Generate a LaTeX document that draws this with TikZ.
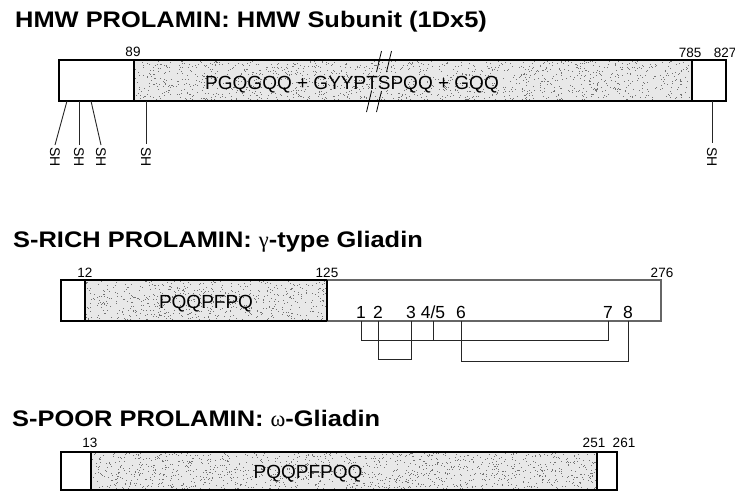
\documentclass[tikz,border=0pt]{standalone}
\usepackage{fontspec}
\setmainfont{Liberation Sans}
\newfontfamily\titlefont{Liberation Sans}[FakeStretch=1.13]
\newfontfamily\greekfont{Liberation Serif}
\begin{document}
\begin{tikzpicture}[x=1pt,y=-1pt,
  title/.style={anchor=base west,inner sep=0,font=\titlefont\fontsize{22.5}{22.5}\selectfont\bfseries},
  posnum/.style={anchor=base,inner sep=0,font=\fontsize{13.5}{13.5}\selectfont},
  seqtext/.style={anchor=base,inner sep=0,font=\fontsize{19}{19}\selectfont},
  cysnum/.style={anchor=base,inner sep=0,font=\fontsize{17.5}{17.5}\selectfont},
  shlabel/.style={anchor=west,inner sep=0,rotate=-90,font=\fontsize{14}{14}\selectfont},
  shadefill/.style={fill=black!9},
  stipple/.style={fill=black!55},
  boxline/.style={draw=black,line width=1.2pt},
  greyline/.style={draw=black!60,line width=1.1pt},
  link/.style={draw=black!85,line width=0.9pt},
  bond/.style={draw=black!85,line width=0.9pt},
  breakmark/.style={draw=black,line width=0.8pt}
]
\useasboundingbox (0,0) rectangle (735,493);
\fill[white] (0,0) rectangle (735,493);
\pgfmathsetseed{12345}

% ---------------- HMW ----------------
\node[title] (t1) at (15,27) {HMW PROLAMIN: HMW Subunit (1Dx5)};
\fill[shadefill] (134,60) rectangle (692,101);
\foreach \i in {1,...,1400}{
  \pgfmathsetmacro\rx{134+557*rnd}\pgfmathsetmacro\ry{60+40*rnd}
  \fill[stipple] (\rx,\ry) rectangle ++(0.9,0.9);
}
\draw[boxline] (59,60) rectangle (726,101);
\draw[boxline] (134,60) -- (134,101);
\draw[boxline] (692,60) -- (692,101);
\node[posnum] (p89) at (133,56) {89};
\node[posnum] (p785) at (690,57) {785};
\node[posnum] (p827) at (725,57) {827};
\node[seqtext] (s1) at (352,89) {PGQGQQ + GYYPTSPQQ + GQQ};
% break marks
\draw[breakmark] (381.5,51) -- (376.5,72);
\draw[breakmark] (391.5,51) -- (386.5,72);
\draw[breakmark] (371.5,91) -- (366.5,112);
\draw[breakmark] (381.5,91) -- (376.5,112);
% SH groups
\coordinate (h1) at (67,101);
\coordinate (h2) at (79,101);
\coordinate (h3) at (91,101);
\coordinate (h4) at (146,101);
\coordinate (h5) at (712,101);
\node[shlabel] (sh1) at (55,147) {SH};
\node[shlabel] (sh2) at (79,147) {SH};
\node[shlabel] (sh3) at (101,147) {SH};
\node[shlabel] (sh4) at (146,147) {SH};
\node[shlabel] (sh5) at (712,147) {SH};
\draw[link] (h1) -- ([yshift=2pt]sh1.west);
\draw[link] (h2) -- ([yshift=2pt]sh2.west);
\draw[link] (h3) -- ([yshift=2pt]sh3.west);
\draw[link] (h4) -- ([yshift=3pt]sh4.west);
\draw[link] (h5) -- ([yshift=4pt]sh5.west);

% ---------------- S-RICH ----------------
\node[title] (t2) at (13,247) {S-RICH PROLAMIN: {\greekfont\mdseries γ}-type Gliadin};
\fill[shadefill] (85,280) rectangle (327,321);
\foreach \i in {1,...,620}{
  \pgfmathsetmacro\rx{85+241*rnd}\pgfmathsetmacro\ry{280+40*rnd}
  \fill[stipple] (\rx,\ry) rectangle ++(0.9,0.9);
}
\draw[greyline] (327,280) -- (661,280) -- (661,321) -- (327,321);
\draw[boxline] (327,280) -- (61,280) -- (61,321) -- (327,321);
\draw[boxline] (85,280) -- (85,321);
\draw[boxline] (327,280) -- (327,321);
\node[posnum] (p12) at (85,277) {12};
\node[posnum] (p125) at (327,277) {125};
\node[posnum] (p276) at (662,277) {276};
\node[seqtext] (s2) at (206,308) {PQQPFPQ};
\node[cysnum] (n1) at (361,318) {1};
\node[cysnum] (n2) at (378,318) {2};
\node[cysnum] (n3) at (411,318) {3};
\node[cysnum] (n45) at (433,318) {4/5};
\node[cysnum] (n6) at (461,318) {6};
\node[cysnum] (n7) at (608,318) {7};
\node[cysnum] (n8) at (628,318) {8};
\coordinate (c1) at (361,321);
\coordinate (c2) at (378,321);
\coordinate (c3) at (411,321);
\coordinate (c45) at (433,321);
\coordinate (c6) at (461,321);
\coordinate (c7) at (608,321);
\coordinate (c8) at (628,321);
\coordinate (yA) at (0,340);
\coordinate (yB) at (0,359);
\coordinate (yC) at (0,361);
\draw[bond] (c1) -- (c1 |- yA) -- (c7 |- yA) -- (c7);
\draw[bond] (c45) -- (c45 |- yA);
\draw[bond] (c2) -- (c2 |- yB) -- (c3 |- yB) -- (c3);
\draw[bond] (c6) -- (c6 |- yC) -- (c8 |- yC) -- (c8);

% ---------------- S-POOR ----------------
\node[title] (t3) at (12,426) {S-POOR PROLAMIN: {\greekfont\mdseries ω}-Gliadin};
\fill[shadefill] (91,452) rectangle (597,490);
\foreach \i in {1,...,1300}{
  \pgfmathsetmacro\rx{91+505*rnd}\pgfmathsetmacro\ry{452+37*rnd}
  \fill[stipple] (\rx,\ry) rectangle ++(0.9,0.9);
}
\draw[boxline] (61,452) rectangle (617,490);
\draw[boxline] (91,452) -- (91,490);
\draw[boxline] (597,452) -- (597,490);
\node[posnum] (p13) at (90,447) {13};
\node[posnum] (p251) at (594,447) {251};
\node[posnum] (p261) at (624,447) {261};
\node[seqtext] (s3) at (308,478) {PQQPFPQQ};
\end{tikzpicture}
\end{document}
